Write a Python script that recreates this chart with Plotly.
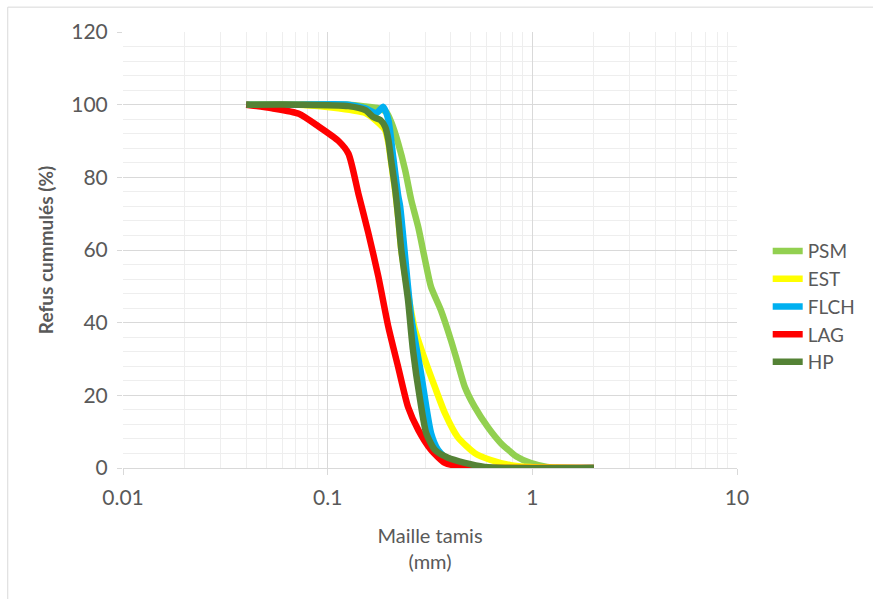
import plotly.graph_objects as go

# Data (sieve mesh in mm, cumulative retained in %)
psm_x = [0.04, 0.0723, 0.1264, 0.1528, 0.177, 0.193, 0.205, 0.221, 0.239, 0.256, 0.277, 0.299, 0.320, 0.357, 0.400, 0.432, 0.468, 0.523, 0.605, 0.700, 0.845, 0.977, 1.18, 2.0]
psm_y = [100, 100, 100, 99.5, 99, 98, 95, 89.4, 82, 73.8, 66.3, 57.3, 49.8, 43.5, 35.2, 28.9, 22.3, 16.8, 11.3, 6.9, 3, 1.4, 0.3, 0]

est_x = [0.04, 0.0723, 0.113, 0.1528, 0.177, 0.191, 0.198, 0.205, 0.214, 0.221, 0.229, 0.247, 0.256, 0.267, 0.299, 0.334, 0.374, 0.432, 0.523, 0.626, 0.782, 0.977, 2.0]
est_y = [100, 100, 99, 97.7, 95, 93, 89.5, 83.5, 76, 69, 60, 48, 43, 38, 29.7, 22.3, 15.1, 8.5, 4.1, 2.2, 0.8, 0.3, 0]

flch_x = [0.04, 0.0723, 0.1264, 0.1528, 0.173, 0.187, 0.198, 0.209, 0.221, 0.226, 0.256, 0.286, 0.320, 0.346, 0.400, 0.447, 2.0]
flch_y = [100, 100, 100, 99, 97.7, 99.4, 95.8, 85.6, 75, 72, 41.6, 26, 9.6, 5, 1.4, 0, 0]

lag_x = [0.04, 0.0535, 0.0723, 0.0903, 0.113, 0.1264, 0.1413, 0.158, 0.177, 0.198, 0.221, 0.247, 0.277, 0.320, 0.374, 0.468, 0.654, 1.0, 2.0]
lag_y = [100, 99, 97.5, 94, 90, 86.5, 75.5, 64.7, 52.6, 38.8, 27.8, 16.8, 10.5, 5, 1.4, 0.3, 0, 0, 0]

hp_x = [0.04, 0.0723, 0.1264, 0.1528, 0.167, 0.181, 0.191, 0.198, 0.205, 0.214, 0.221, 0.229, 0.247, 0.261, 0.283, 0.303, 0.334, 0.387, 0.468, 0.585, 0.732, 2.0]
hp_y = [100, 100, 99.6, 98.5, 96.6, 95.8, 93.9, 90.3, 84, 76.5, 69.1, 60, 46.2, 32.5, 18.7, 9.6, 5, 2.8, 1.4, 0.3, 0, 0]

series = [
    ("PSM", psm_x, psm_y, "#92D050"),
    ("EST", est_x, est_y, "#FFFF00"),
    ("FLCH", flch_x, flch_y, "#00B0F0"),
    ("LAG", lag_x, lag_y, "#FF0000"),
    ("HP", hp_x, hp_y, "#548235"),
]

x_tickvals = [0.01, 0.1, 1, 10]
x_ticktext = ["0.01", "0.1", "1", "10"]

FONT = "Lato, Open Sans, sans-serif"
GRAY = "#595959"

fig = go.Figure()
for name, xs, ys, col in series:
    fig.add_trace(go.Scatter(
        x=xs, y=ys, name=name, mode="lines",
        line=dict(color=col, width=6.5, shape="spline", smoothing=0.6),
        legendgroup=name,
    ))

fig.update_layout(
    width=873, height=599,
    margin=dict(l=123, r=132, t=32, b=131),
    paper_bgcolor="white", plot_bgcolor="white",
    font=dict(family=FONT, color=GRAY, size=20),
    legend=dict(x=1.05, xanchor="left", y=0.37, yanchor="middle",
                font=dict(size=19, color=GRAY), tracegroupgap=0,
                bgcolor="rgba(0,0,0,0)"),
    shapes=[
        dict(type="line", xref="paper", yref="paper",
             x0=-0.1877, x1=-0.1877, y0=-0.32, y1=1.057,
             line=dict(color="#d9d9d9", width=1), layer="below"),
        dict(type="line", xref="paper", yref="paper",
             x0=-0.1877, x1=1.3, y0=1.057, y1=1.057,
             line=dict(color="#d9d9d9", width=1), layer="below"),
    ],
)

fig.update_xaxes(
    type="log", range=[-2, 1],
    tickmode="array", tickvals=x_tickvals, ticktext=x_ticktext,
    showgrid=True, gridcolor="#d9d9d9", gridwidth=1,
    minor=dict(showgrid=True, gridcolor="#eeeeee", gridwidth=1, dtick="D1"),
    showline=True, linecolor="#d9d9d9", linewidth=1,
    ticks="outside", ticklen=6, tickcolor="#d9d9d9",
    ticklabelstandoff=5,
    tickfont=dict(size=21, color=GRAY),
    title=dict(text="Maille tamis<br>(mm)", font=dict(size=20, color=GRAY), standoff=20),
    zeroline=False,
)
fig.update_yaxes(
    range=[0, 120], dtick=20,
    showgrid=True, gridcolor="#d9d9d9", gridwidth=1,
    minor=dict(showgrid=True, gridcolor="#eeeeee", gridwidth=1, dtick=4),
    showline=False,
    ticks="outside", ticklen=5, tickcolor="#d9d9d9",
    ticklabelstandoff=5,
    tickfont=dict(size=21, color=GRAY),
    title=dict(text="<b>Refus cummulés (%)</b>", font=dict(size=19, color=GRAY), standoff=12),
    zeroline=False,
)

fig.write_html("out.html", config={"displayModeBar": False},
               post_script="document.body.style.margin='0px';")
